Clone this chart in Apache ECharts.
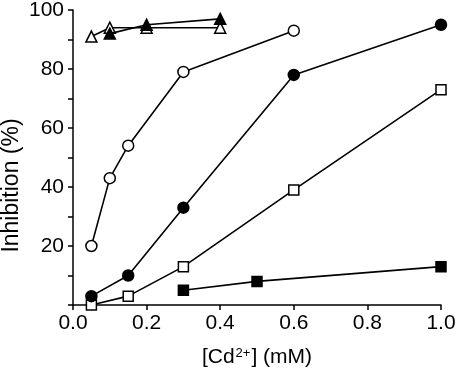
<!DOCTYPE html>
<html><head><meta charset="utf-8">
<script src="https://cdn.jsdelivr.net/npm/echarts@6/dist/echarts.min.js"></script>
<style>html,body{margin:0;padding:0;background:#fff}#c{width:458px;height:374px}</style>
</head><body><div id="c"></div>
<script>
const openCircle = [[0.05,20],[0.1,43],[0.15,54],[0.3,79],[0.6,93]];
const filledCircle = [[0.05,3],[0.15,10],[0.3,33],[0.6,78],[1.0,95]];
const openSquare = [[0.05,0],[0.15,3],[0.3,13],[0.6,39],[1.0,73]];
const filledSquare = [[0.3,5],[0.5,8],[1.0,13]];
const openTriangle = [[0.05,91],[0.1,94],[0.2,94],[0.4,94]];
const filledTriangle = [[0.1,92],[0.2,95],[0.4,97]];

const font = 'Liberation Sans';
function ser(data, symbol, size, filled){
  return {type:'line', data, symbol, symbolSize:size, showSymbol:true,
    lineStyle:{color:'#000',width:1.6}, itemStyle:{color: filled?'#000':'#fff', borderColor:'#000', borderWidth:1.5},
    emphasis:{disabled:true}, z: filled?3:2, animation:false};
}
const chart = echarts.init(document.getElementById('c'));
chart.setOption({
  animation:false,
  grid:{left:73,right:17,top:10,bottom:69,containLabel:false,outerBoundsMode:'none'},
  xAxis:{type:'value',min:0,max:1,interval:0.2,
    axisLine:{lineStyle:{color:'#000',width:1.5}},
    axisTick:{show:true,length:5,inside:false,lineStyle:{color:'#000',width:1.5}},
    splitLine:{show:false},
    axisLabel:{color:'#000',fontFamily:font,fontSize:21,margin:8,formatter:v=>v.toFixed(1)},
    name:'[Cd{sup|2+}] (mM)',nameLocation:'middle',nameGap:42,nameMoveOverlap:false,
    nameTextStyle:{color:'#000',fontFamily:font,fontSize:21,rich:{sup:{fontSize:13,fontFamily:font,color:'#000',verticalAlign:'top',padding:[0,1,8,1]}}}
  },
  yAxis:{type:'value',min:0,max:100,interval:20,
    axisLine:{show:true,lineStyle:{color:'#000',width:1.5}},
    axisTick:{show:true,length:5,lineStyle:{color:'#000',width:1.5}},
    minorTick:{show:true,splitNumber:2,length:5,lineStyle:{color:'#000',width:1.5}},
    splitLine:{show:false},
    axisLabel:{color:'#000',fontFamily:font,fontSize:21,margin:9,formatter:v=>v===0?'':String(v)},
    name:'Inhibition (%)',nameLocation:'middle',nameGap:50,nameMoveOverlap:false,
    nameTextStyle:{color:'#000',fontFamily:font,fontSize:23,padding:[0,56,0,0]}
  },
  series:[
    ser(openCircle,'circle',11,false),
    ser(filledCircle,'circle',11,true),
    ser(openSquare,'rect',10,false),
    ser(filledSquare,'rect',10,true),
    ser(openTriangle,'triangle',11,false),
    ser(filledTriangle,'triangle',11,true)
  ]
});
</script></body></html>
